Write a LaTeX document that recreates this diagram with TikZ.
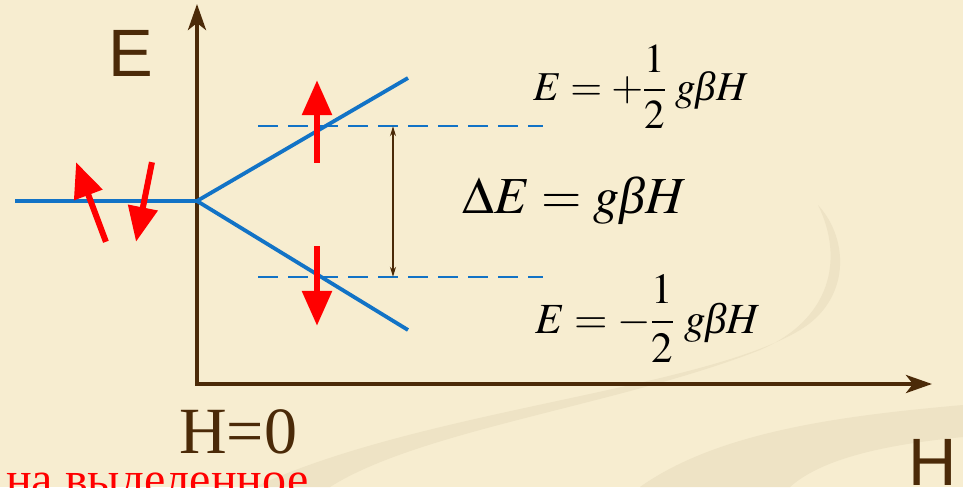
\documentclass[tikz,border=0pt]{standalone}
\usepackage{mathptmx}
\usepackage[no-math]{fontspec}
\setmainfont{Liberation Serif}
\newfontfamily\arialfont{Liberation Sans}
\newcommand{\itbeta}{\mbox{\itshape β}}
\usetikzlibrary{arrows.meta}

\definecolor{bgbeige}{HTML}{F7EDD0}
\definecolor{swoosh}{HTML}{EEE3C5}
\definecolor{axisbrown}{HTML}{4B2A08}
\definecolor{levelblue}{HTML}{1273C6}
\definecolor{spinred}{HTML}{FF0000}

\begin{document}
\begin{tikzpicture}[x=1pt,y=-1pt,
    pt/.style={inner sep=0pt,minimum size=0pt},
    axis/.style={line width=4pt,draw=axisbrown,line join=miter,
      {Stealth[length=26pt,width=18pt,inset=7pt]}-{Stealth[length=26pt,width=18pt,inset=7pt]}},
    level/.style={line width=3.8pt,draw=levelblue},
    sublevel/.style={line width=2.8pt,draw=levelblue,dash pattern=on 20pt off 10pt},
    spin/.style={line width=6pt,draw=spinred,-{Triangle[length=35pt,width=29pt]}},
    gap/.style={line width=1.2pt,draw=axisbrown,
      {Stealth[length=10pt,width=6pt]}-{Stealth[length=10pt,width=6pt]}},
    lbl/.style={inner sep=0pt,anchor=base west}]

\useasboundingbox (0,0) rectangle (963,487);
\clip (0,0) rectangle (963,487);
\fill[bgbeige] (0,0) rectangle (963,487);

% background swooshes
\fill[swoosh] (255,487) .. controls (420,410) and (700,390) .. (800,330)
  .. controls (850,300) and (850,240) .. (818,205)
  .. controls (845,260) and (830,320) .. (760,350)
  .. controls (620,405) and (420,430) .. (330,487) -- cycle;
\fill[swoosh] (640,487) .. controls (720,430) and (850,415) .. (963,405)
  -- (963,437) .. controls (880,445) and (820,460) .. (790,487) -- cycle;

% axes
\node[pt] (Etop) at (197,4) {};
\node[pt] (O) at (197,384) {};
\node[pt] (Hend) at (932,384) {};
\draw[axis] (Etop.center) -- (O.center) -- (Hend.center);

% levels
\node[pt] (L) at (15,201) {};
\node[pt] (S) at (197,201) {};
\node[pt] (up) at (408,78) {};
\node[pt] (dn) at (408,330) {};
\draw[level] (L) -- (S);
\draw[level] (S.center) -- (up.center);
\draw[level] (S.center) -- (dn.center);

\node[pt] (ua) at (258,126) {};
\node[pt] (ub) at (543,126) {};
\node[pt] (da) at (258,277) {};
\node[pt] (db) at (543,277) {};
\draw[sublevel] (ua) -- (ub);
\draw[sublevel] (da) -- (db);

\node[pt] (gt) at (393,126) {};
\node[pt] (gb) at (393,277) {};
\draw[gap] (gt) -- (gb);

% spins
\node[pt] (s1) at (106,242) {};
\node[pt] (t1) at (76,162) {};
\node[pt] (s2) at (152,162) {};
\node[pt] (t2) at (136,242) {};
\node[pt] (s3) at (317,163) {};
\node[pt] (t3) at (317,80) {};
\node[pt] (s4) at (317,246) {};
\node[pt] (t4) at (317,326) {};
\draw[spin] (s1) -- (t1);
\draw[spin] (s2) -- (t2);
\draw[spin] (s3) -- (t3);
\draw[spin] (s4) -- (t4);

% labels
\node[lbl,text=axisbrown] (Elbl) at (108,76) {\arialfont\fontsize{67}{70}\selectfont E};
\node[lbl,text=axisbrown] (Hlbl) at (908,485) {\arialfont\fontsize{67}{70}\selectfont H};
\node[lbl,text=axisbrown] (H0) at (179,453) {\fontsize{66}{70}\selectfont H=0};
\node[lbl,text=spinred] (note) at (6,495) {\fontsize{48}{52}\selectfont на выделенное};

\node[lbl] (dE) at (462,213) {\fontsize{52}{60}\selectfont $\Delta E = g\itbeta H$};
\node[lbl] (Eup) at (533,100) {\fontsize{41}{50}\selectfont $\displaystyle E=+\frac{1}{2}\;g\itbeta H$};
\node[lbl] (Edn) at (535,333) {\fontsize{43}{54}\selectfont $\displaystyle E=-\frac{1}{2}\;g\itbeta H$};
\end{tikzpicture}
\end{document}
